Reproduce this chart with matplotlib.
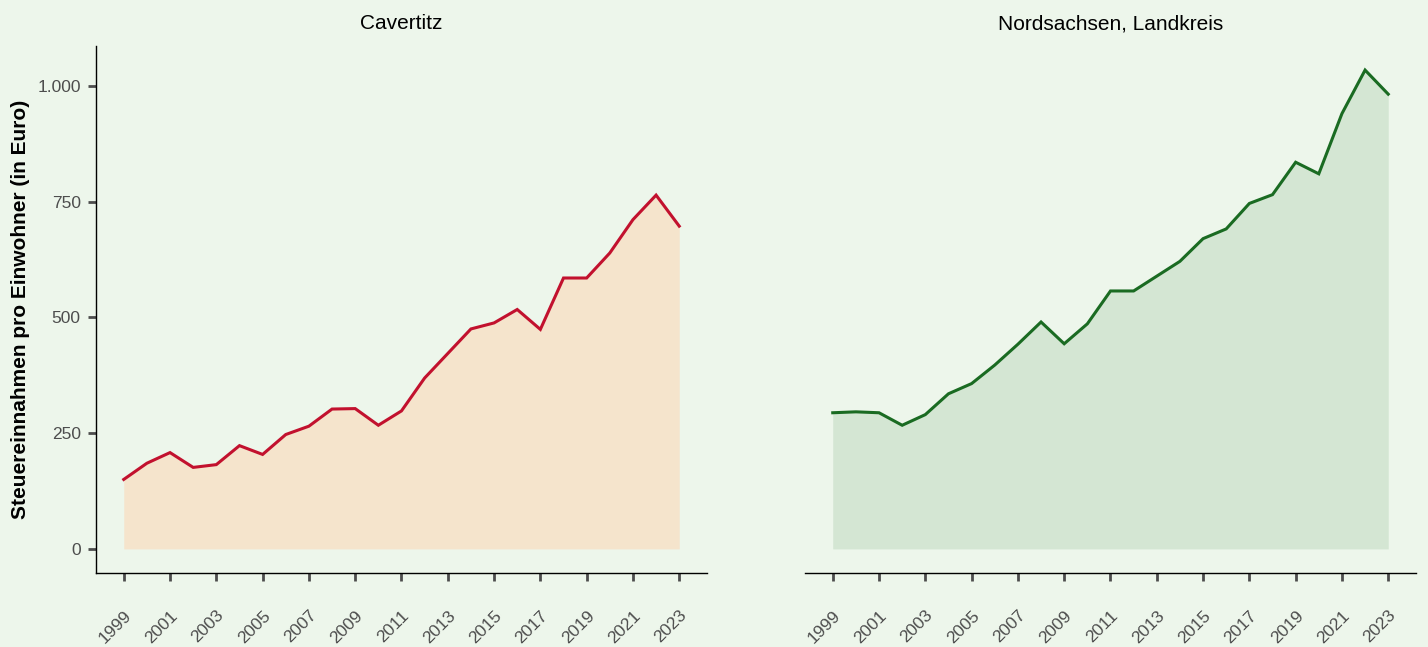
#!/usr/bin/env python
"""Steuereinnahmen pro Einwohner: Cavertitz vs. Landkreis Nordsachsen (area + line)."""

import matplotlib
matplotlib.use("Agg")
import matplotlib.pyplot as plt
from matplotlib.ticker import FuncFormatter

YEARS = list(range(1999, 2024))

CAVERTITZ = [150, 185, 208, 176, 182, 223, 204, 247, 265, 302, 303, 267, 298,
             369, 422, 475, 488, 517, 474, 585, 585, 639, 711, 764, 697]

NORDSACHSEN = [294, 296, 294, 267, 290, 335, 357, 397, 442, 490, 443, 486, 557,
               557, 589, 621, 670, 691, 746, 765, 835, 810, 940, 1034, 982]

PANEL_TITLES = ["Cavertitz", "Nordsachsen, Landkreis"]
Y_TICKS = [0, 250, 500, 750, 1000]
X_TICKS = list(range(1999, 2024, 2))
Y_LABEL = "Steuereinnahmen pro Einwohner (in Euro)"

BG = "#EDF6EB"
PANELS = [
    (CAVERTITZ, "#F5E4CC", "#C2112E"),
    (NORDSACHSEN, "#D4E6D3", "#1A6B22"),
]

plt.rcParams["font.family"] = ["Liberation Sans", "DejaVu Sans"]


def de_thousands(v, _pos):
    return f"{int(v):,}".replace(",", ".")


def style_axis(ax, show_y: bool):
    ax.set_facecolor(BG)
    for side in ("top", "right"):
        ax.spines[side].set_visible(False)
    ax.spines["bottom"].set_color("black")
    ax.spines["bottom"].set_linewidth(1.0)
    ax.spines["left"].set_color("black")
    ax.spines["left"].set_linewidth(1.0)
    ax.tick_params(axis="both", direction="out", length=6, width=2,
                   color="#4D4D4D", labelcolor="#4D4D4D", labelsize=12.5)
    ax.set_xlim(1997.8, 2024.2)
    ax.set_ylim(-52, 1086)
    ax.set_xticks(X_TICKS)
    ax.set_xticklabels([str(y) for y in X_TICKS], rotation=45, ha="right",
                       va="top", rotation_mode="anchor")
    ax.tick_params(axis="x", pad=19)
    ax.tick_params(axis="y", pad=5)
    if show_y:
        ax.set_yticks(Y_TICKS)
        ax.yaxis.set_major_formatter(FuncFormatter(de_thousands))
    else:
        ax.spines["left"].set_visible(False)
        ax.set_yticks([])


fig = plt.figure(figsize=(14.28, 6.47), dpi=100, facecolor=BG)
ax_left = fig.add_axes([0.0672, 0.1144, 0.4279, 0.8145])
ax_right = fig.add_axes([0.5637, 0.1144, 0.4279, 0.8145])

for i, (ax, (values, fill_c, line_c)) in enumerate(zip([ax_left, ax_right], PANELS)):
    ax.fill_between(YEARS, 0, values, color=fill_c, linewidth=0)
    ax.plot(YEARS, values, color=line_c, linewidth=2.2, solid_joinstyle="miter")
    style_axis(ax, show_y=(i == 0))
    ax.set_title(PANEL_TITLES[i], fontsize=15, color="black", pad=12)

ax_left.set_ylabel(Y_LABEL, fontsize=15, fontweight="bold", labelpad=5)

fig.savefig("out.png", dpi=100, facecolor=BG)
